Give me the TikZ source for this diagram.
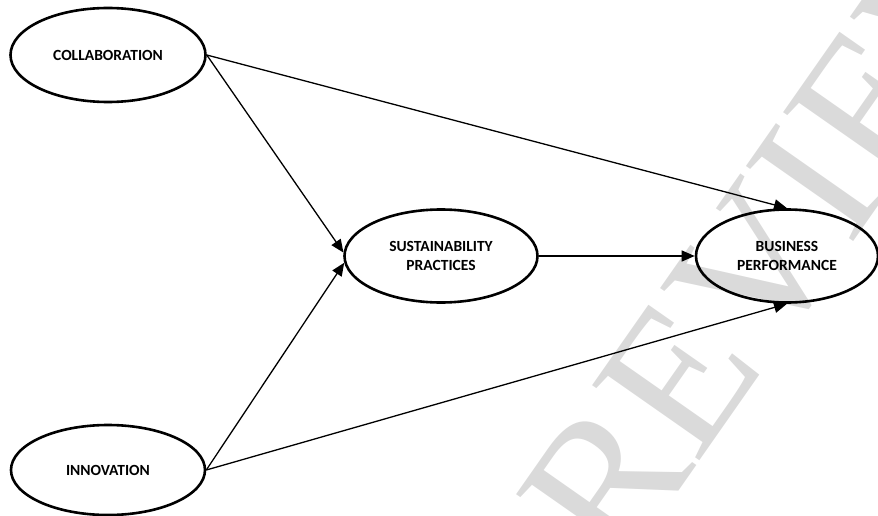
\documentclass[tikz,border=0pt]{standalone}
\usepackage{fontspec}
\setmainfont{Carlito}
\newfontfamily\wmfont{Liberation Serif}
\usetikzlibrary{shapes.geometric,arrows.meta}
\definecolor{wmgray}{RGB}{218,218,218}
\tikzset{
  construct/.style={ellipse, draw=black, line width=2.6pt, inner sep=0pt, align=center,
    font=\fontsize{15.5}{19.5}\selectfont\bfseries},
  path arrow/.style={line width=1.3pt, -{Triangle[length=13pt,width=11pt]}},
  watermark/.style={text=wmgray, font=\wmfont\fontsize{200}{200}\selectfont, inner sep=0pt}
}
\begin{document}
\begin{tikzpicture}[x=1pt,y=-1pt]
\useasboundingbox (0,0) rectangle (878,516);
\clip (0,0) rectangle (878,516);
\node[watermark, rotate=55, anchor=base west] (wm) at (620,575) {REVIEW};
\node[construct, minimum width=195pt, minimum height=94pt] (coll) at (108,55) {COLLABORATION};
\node[construct, minimum width=194pt, minimum height=90pt] (inno) at (108,470) {INNOVATION};
\node[construct, minimum width=193pt, minimum height=93pt] (sp) at (441,256) {SUSTAINABILITY\\PRACTICES};
\node[construct, minimum width=182pt, minimum height=93pt] (bp) at (787,256) {BUSINESS\\PERFORMANCE};
\draw[path arrow] (coll.east) -- (sp.178);
\draw[path arrow] (inno.east) -- (sp.184);
\draw[path arrow] (coll.east) -- (bp.north);
\draw[path arrow] (inno.east) -- (bp.south);
\draw[path arrow] (sp.east) -- (bp.west);
\end{tikzpicture}
\end{document}
